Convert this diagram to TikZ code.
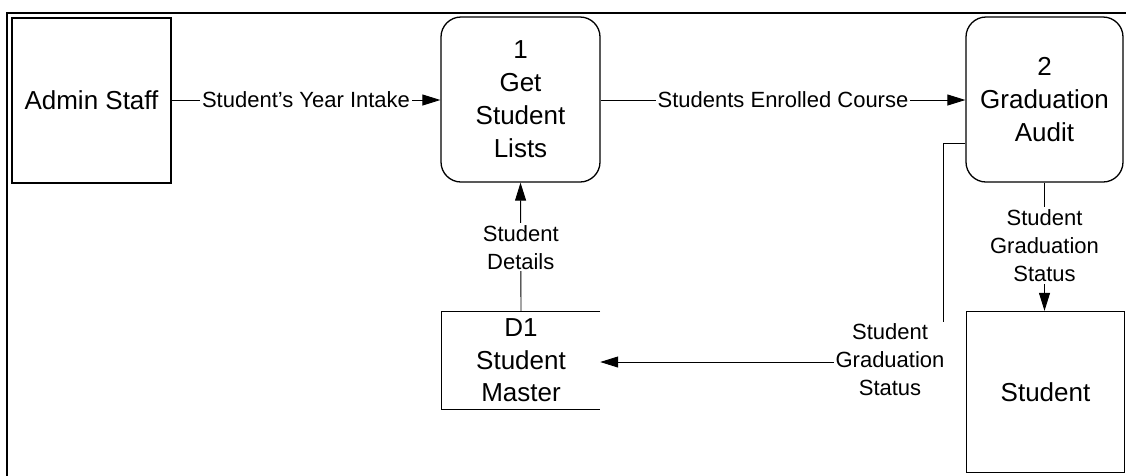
\documentclass[tikz,border=0pt]{standalone}
\usepackage{fontspec}
\setmainfont{Liberation Sans}
\usetikzlibrary{arrows.meta}
\tikzset{
  boxline/.style={line width=1.3pt},
  entity/.style={boxline, draw, rectangle, inner sep=0pt, align=center, font=\fontsize{26}{33}\selectfont},
  proc/.style={entity, rounded corners=20pt},
  storenode/.style={inner sep=0pt, align=center, font=\fontsize{26}{32.5}\selectfont},
  flow/.style={line width=0.9pt, -{Triangle[length=18pt,width=11pt]}},
  plainflow/.style={line width=0.9pt},
  flowlabel/.style={fill=white, inner sep=2pt, align=center, font=\fontsize{22}{28}\selectfont}
}
\begin{document}
\begin{tikzpicture}[x=1pt,y=-1pt]
\useasboundingbox (0,0) rectangle (1126,475);
% frame
\draw[line width=2.5pt] (7,476) -- (7,13) -- (1127,13);

\node[entity, minimum width=159pt, minimum height=165pt] (admin) at (91.5,100.5) {Admin Staff};
\node[proc, minimum width=159pt, minimum height=165pt] (p1) at (520.5,99.5) {1\\Get\\Student\\Lists};
\node[proc, minimum width=157pt, minimum height=165pt] (p2) at (1044.5,99.5) {2\\Graduation\\Audit};
\node[storenode, minimum width=158pt, minimum height=97pt] (d1) at (521,360.5) {D1\\Student\\Master};
\draw[boxline] (d1.north east) -- (d1.north west) -- (d1.south west) -- (d1.south east);
\node[entity, minimum width=158pt, minimum height=161pt] (student) at (1045.5,392) {Student};

\draw[flow] (admin.east |- 0,100) -- node[flowlabel]{Student's Year Intake} (p1.west |- 0,100);
\draw[flow] (p1.east |- 0,100) -- node[flowlabel]{Students Enrolled Course} (p2.west |- 0,100);
\draw[flow] (d1.north) -- node[flowlabel]{Student\\Details} (p1.south);
\draw[flow] (p2.south) -- node[flowlabel, pos=0.49]{Student\\Graduation\\Status} (p2.south |- student.north);

\coordinate (corner) at (943,362);
\draw[flow] ([yshift=-43.5pt]p2.west) -| (corner) -- (corner -| d1.east);
\node[flowlabel] (gslabel) at (890,360) {Student\\Graduation\\Status};
\end{tikzpicture}
\end{document}
